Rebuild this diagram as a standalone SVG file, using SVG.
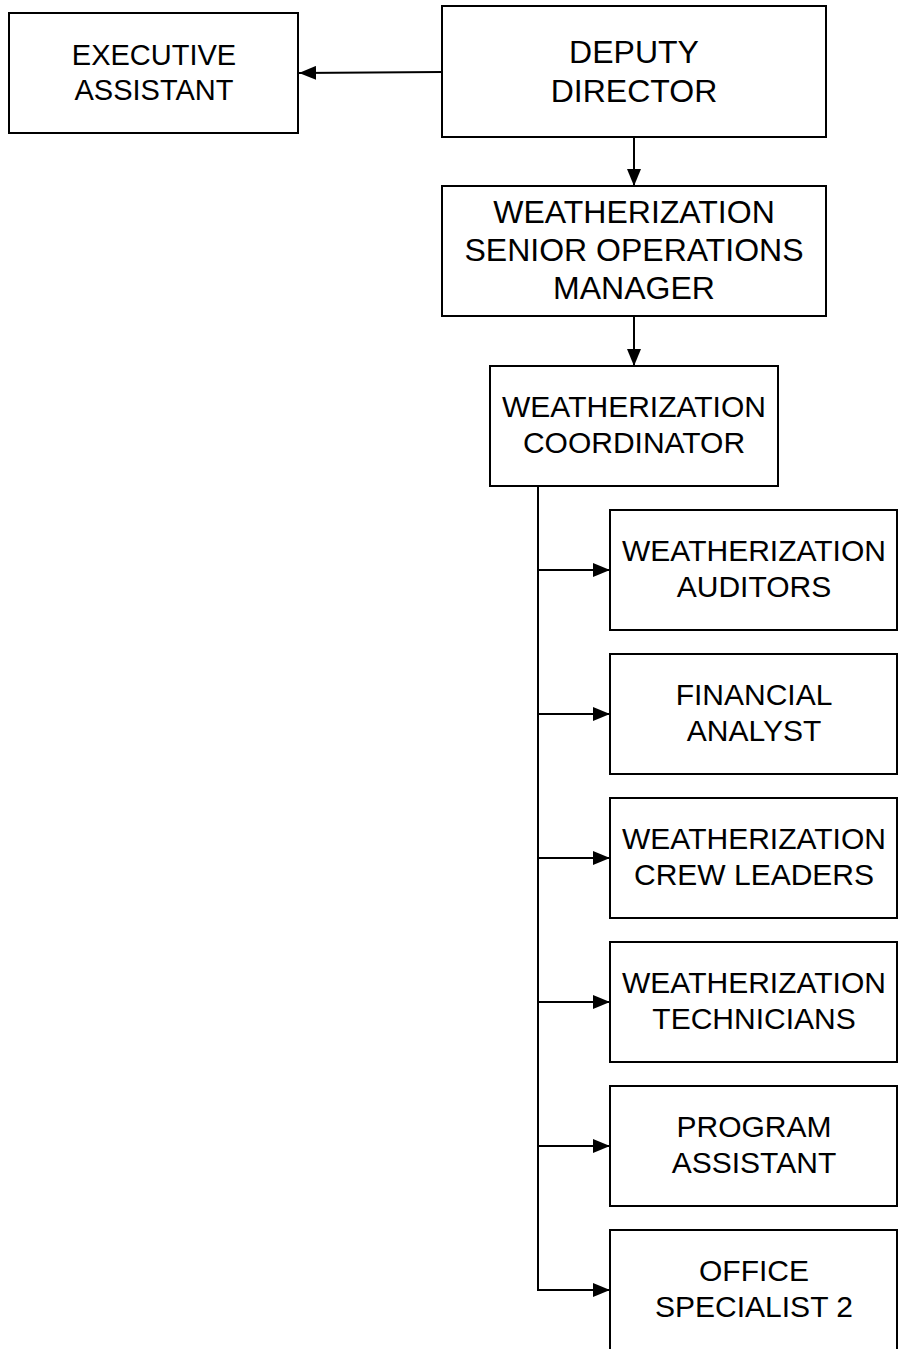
<svg xmlns="http://www.w3.org/2000/svg" width="898" height="1349" viewBox="0 0 898 1349">
  <style>
    .box { fill: #ffffff; stroke: #000000; stroke-width: 2; }
    .lbl { font-family: "Liberation Sans", Arial, sans-serif; fill: #000000; text-anchor: middle; }
    .big { font-size: 32px; }
    .sm { font-size: 30px; }
    .xs { font-size: 29px; }
    .wire { fill: none; stroke: #000000; stroke-width: 2; }
  </style>
  <defs>
    <marker id="arrow" markerUnits="userSpaceOnUse" markerWidth="17" markerHeight="14" refX="17" refY="7" orient="auto">
      <path d="M0,0 L17,7 L0,14 z" fill="#000000"/>
    </marker>
  </defs>
  <rect width="898" height="1349" fill="#ffffff"/>

  <g id="connectors">
    <line class="wire" x1="442" y1="72" x2="299" y2="73" marker-end="url(#arrow)"/>
    <line class="wire" x1="634" y1="137" x2="634" y2="186" marker-end="url(#arrow)"/>
    <line class="wire" x1="634" y1="316" x2="634" y2="366" marker-end="url(#arrow)"/>
    <polyline class="wire" points="538,486 538,1290"/>
    <line class="wire" x1="537" y1="570" x2="610" y2="570" marker-end="url(#arrow)"/>
    <line class="wire" x1="537" y1="714" x2="610" y2="714" marker-end="url(#arrow)"/>
    <line class="wire" x1="537" y1="858" x2="610" y2="858" marker-end="url(#arrow)"/>
    <line class="wire" x1="537" y1="1002" x2="610" y2="1002" marker-end="url(#arrow)"/>
    <line class="wire" x1="537" y1="1146" x2="610" y2="1146" marker-end="url(#arrow)"/>
    <line class="wire" x1="537" y1="1290" x2="610" y2="1290" marker-end="url(#arrow)"/>
  </g>

  <g id="executive-assistant">
    <rect class="box" x="9" y="13" width="289" height="120"/>
    <text class="lbl xs" x="154" y="65">EXECUTIVE</text>
    <text class="lbl xs" x="154" y="100">ASSISTANT</text>
  </g>

  <g id="deputy-director">
    <rect class="box" x="442" y="6" width="384" height="131"/>
    <text class="lbl big" x="634" y="63">DEPUTY</text>
    <text class="lbl big" x="634" y="102">DIRECTOR</text>
  </g>

  <g id="senior-operations-manager">
    <rect class="box" x="442" y="186" width="384" height="130"/>
    <text class="lbl big" x="634" y="223">WEATHERIZATION</text>
    <text class="lbl big" x="634" y="261">SENIOR OPERATIONS</text>
    <text class="lbl big" x="634" y="299">MANAGER</text>
  </g>

  <g id="coordinator">
    <rect class="box" x="490" y="366" width="288" height="120"/>
    <text class="lbl sm" x="634" y="417">WEATHERIZATION</text>
    <text class="lbl sm" x="634" y="453">COORDINATOR</text>
  </g>

  <g id="auditors">
    <rect class="box" x="610" y="510" width="287" height="120"/>
    <text class="lbl sm" x="754" y="561">WEATHERIZATION</text>
    <text class="lbl sm" x="754" y="597">AUDITORS</text>
  </g>

  <g id="financial-analyst">
    <rect class="box" x="610" y="654" width="287" height="120"/>
    <text class="lbl sm" x="754" y="705">FINANCIAL</text>
    <text class="lbl sm" x="754" y="741">ANALYST</text>
  </g>

  <g id="crew-leaders">
    <rect class="box" x="610" y="798" width="287" height="120"/>
    <text class="lbl sm" x="754" y="849">WEATHERIZATION</text>
    <text class="lbl sm" x="754" y="885">CREW LEADERS</text>
  </g>

  <g id="technicians">
    <rect class="box" x="610" y="942" width="287" height="120"/>
    <text class="lbl sm" x="754" y="993">WEATHERIZATION</text>
    <text class="lbl sm" x="754" y="1029">TECHNICIANS</text>
  </g>

  <g id="program-assistant">
    <rect class="box" x="610" y="1086" width="287" height="120"/>
    <text class="lbl sm" x="754" y="1137">PROGRAM</text>
    <text class="lbl sm" x="754" y="1173">ASSISTANT</text>
  </g>

  <g id="office-specialist">
    <rect class="box" x="610" y="1230" width="287" height="130"/>
    <text class="lbl sm" x="754" y="1281">OFFICE</text>
    <text class="lbl sm" x="754" y="1317">SPECIALIST 2</text>
  </g>
</svg>
